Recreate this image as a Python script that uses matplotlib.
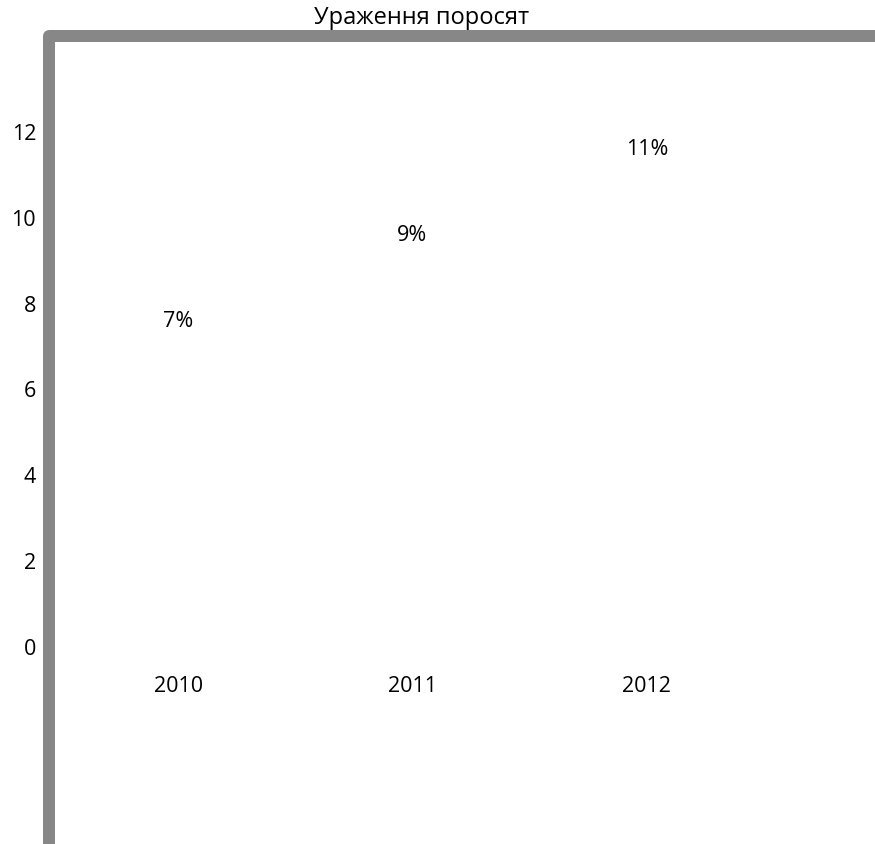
import matplotlib
matplotlib.use('Agg')
import matplotlib.pyplot as plt
from matplotlib.lines import Line2D

plt.rcParams['font.family'] = ['Open Sans', 'DejaVu Sans']

# data
years = ['2010', '2011', '2012']
values = [7, 9, 11]
value_labels = ['7%', '9%', '11%']
y_ticks = [0, 2, 4, 6, 8, 10, 12]

W, H = 875, 845
fig = plt.figure(figsize=(W / 100, H / 100), dpi=100)
fig.set_facecolor('white')

# grey rounded frame, cut off at right and bottom
frame = Line2D([49 / W, 49 / W, (W + 30) / W],
               [-30 / H, 1 - 36.6 / H, 1 - 36.6 / H],
               transform=fig.transFigure, color='#878787',
               linewidth=12 * 72 / 100, solid_joinstyle='round',
               solid_capstyle='butt')
fig.add_artist(frame)

ax = fig.add_axes([61 / W, 1 - 647 / H, 703 / W, 515 / H])
ax.set_facecolor('none')
x = list(range(len(years)))
ax.plot(x, values, linestyle='none', marker='none')
for xi, v, lab in zip(x, values, value_labels):
    ax.annotate(lab, xy=(xi, v), xytext=(0, 18), textcoords='offset points',
                ha='center', va='center', fontsize=15.5, color='black')

ax.set_xlim(-0.5, 2.5)
ax.set_ylim(0, 12)
ax.set_xticks(x)
ax.set_xticklabels(years)
ax.set_yticks(y_ticks)
ax.tick_params(axis='both', length=0, labelsize=15.5, colors='black')
ax.tick_params(axis='y', pad=18)
ax.tick_params(axis='x', pad=21)
for s in ax.spines.values():
    s.set_visible(False)

fig.text(422 / W, 1 - 24 / H, 'Ураження поросят', ha='center', va='baseline',
         fontsize=17, color='black')

fig.savefig('out.png', dpi=100, facecolor='white')
